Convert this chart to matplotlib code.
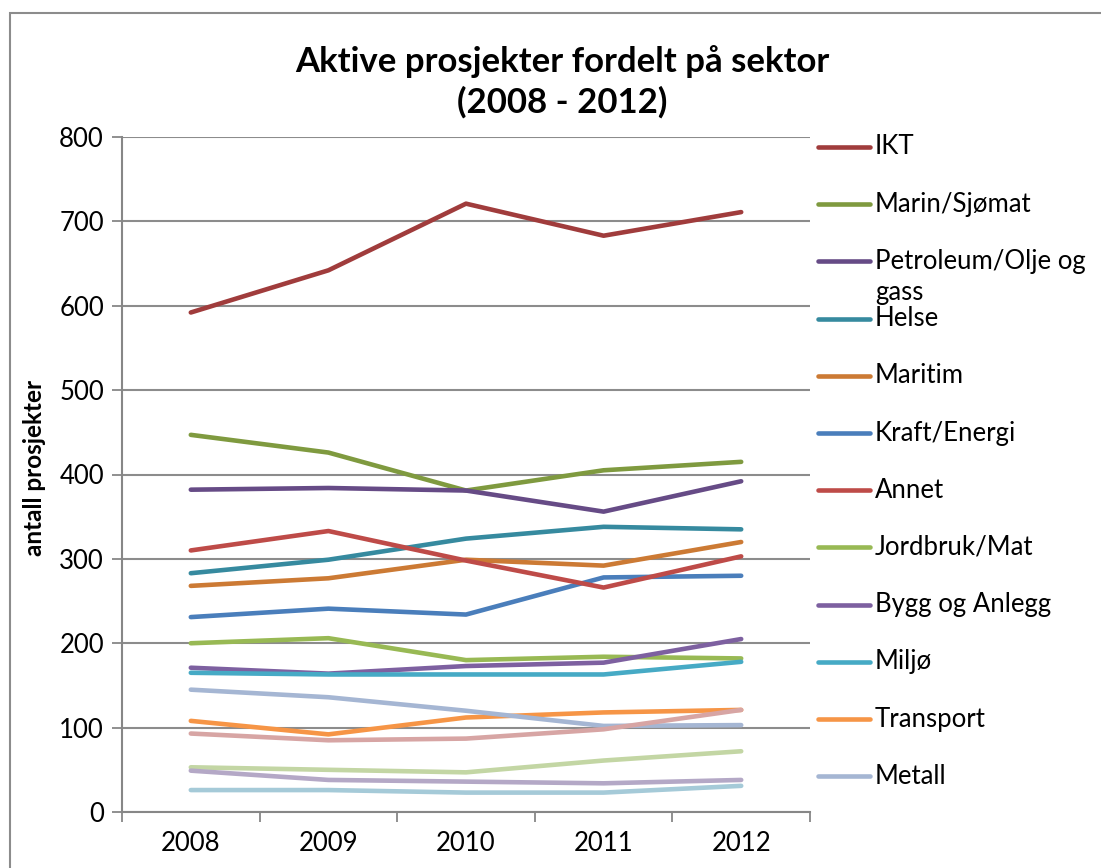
import matplotlib
matplotlib.use("Agg")
import matplotlib.pyplot as plt
from matplotlib.lines import Line2D
from matplotlib.patches import Rectangle

years = ["2008", "2009", "2010", "2011", "2012"]

ikt = [592, 642, 721, 683, 711]
marin = [447, 426, 381, 405, 415]
petroleum = [382, 384, 381, 356, 392]
helse = [283, 299, 324, 338, 335]
maritim = [268, 277, 299, 292, 320]
kraft = [231, 241, 234, 278, 280]
annet = [310, 333, 298, 266, 303]
jordbruk = [200, 206, 180, 184, 182]
bygg = [171, 164, 173, 177, 205]
miljo = [165, 163, 163, 163, 178]
transport = [108, 92, 112, 118, 121]
metall = [145, 136, 120, 102, 103]
serie13 = [93, 85, 87, 98, 121]
serie14 = [53, 50, 47, 61, 72]
serie15 = [49, 38, 36, 34, 38]
serie16 = [26, 26, 23, 23, 31]

names = ["IKT", "Marin/Sjømat", "Petroleum/Olje og\ngass", "Helse", "Maritim",
         "Kraft/Energi", "Annet", "Jordbruk/Mat", "Bygg og Anlegg", "Miljø",
         "Transport", "Metall", "Serie 13", "Serie 14", "Serie 15", "Serie 16"]
series = [ikt, marin, petroleum, helse, maritim, kraft, annet, jordbruk, bygg,
          miljo, transport, metall, serie13, serie14, serie15, serie16]
colors = ["#A03C3C", "#7F9A3F", "#664B86", "#368A9F", "#CC7A34", "#4A7EBB",
          "#BE4B48", "#98B954", "#7D60A0", "#46AAC5", "#F69546", "#A5B6D3",
          "#D7A5A4", "#C3D6A4", "#B4A8C6", "#A5CAD8"]
n_legend = 12

title = "Aktive prosjekter fordelt på sektor\n(2008 - 2012)"
ylabel = "antall prosjekter"
yticks = [0, 100, 200, 300, 400, 500, 600, 700, 800]

W, H = 1101, 868
fig = plt.figure(figsize=(W / 100, H / 100), dpi=100)
plt.rcParams['font.family'] = ['Lato', 'DejaVu Sans']

# chart area frame (clipped at right/bottom)
fig.patches.append(Rectangle((10 / W, -0.1), 1.2, 1 - 13 / H + 0.1,
                             transform=fig.transFigure, fill=False,
                             edgecolor="#8C8C8C", linewidth=1.5))

ax = fig.add_axes([122 / W, 1 - 812 / H, (810 - 122) / W, (812 - 137) / H])
x = list(range(len(years)))
for vals, c in zip(series, colors):
    ax.plot(x, vals, color=c, linewidth=3.3, solid_capstyle="round",
            solid_joinstyle="round")

ax.set_xlim(-0.5, len(years) - 0.5)
ax.set_ylim(0, 800)
ax.set_yticks(yticks)
ax.set_yticklabels([str(v) for v in yticks], fontsize=18.5)
ax.set_xticks(x)
ax.set_xticklabels(years, fontsize=18.5)
ax.set_xticks([i - 0.5 for i in range(len(years) + 1)], minor=True)
ax.tick_params(axis="x", which="major", length=0, pad=14)
ax.tick_params(axis="x", which="minor", length=7, width=1.3, color="#878787",
               direction="out")
ax.tick_params(axis="y", length=7, width=1.3, color="#878787", pad=6)
ax.yaxis.grid(True, color="#8C8C8C", linewidth=1.5)
ax.set_axisbelow(True)
for s in ["top", "right"]:
    ax.spines[s].set_visible(False)
for s in ["left", "bottom"]:
    ax.spines[s].set_color("#878787")
    ax.spines[s].set_linewidth(1.5)

fig.text(562 / W, 1 - 82 / H, title, ha="center", va="center", fontsize=25,
         fontweight="bold", linespacing=1.3)
fig.text(35 / W, 1 - 468 / H, ylabel, rotation=90, ha="center", va="center",
         fontsize=17.5, fontweight="bold")

# legend (first 12 series shown, as in the reference)
leg_y0, leg_dy = 147, 57.2
for i in range(n_legend):
    yy = 1 - (leg_y0 + leg_dy * i) / H
    fig.add_artist(Line2D([818 / W, 870 / W], [yy, yy], color=colors[i],
                          linewidth=3.3, solid_capstyle="round",
                          transform=fig.transFigure))
    lines = names[i].split("\n")
    fig.text(875 / W, yy, lines[0], ha="left", va="center", fontsize=18.5)
    for k, extra in enumerate(lines[1:], start=1):
        fig.text(875 / W, yy - 31 * k / H, extra, ha="left", va="center",
                 fontsize=18.5)

fig.savefig("out.png", dpi=100)
